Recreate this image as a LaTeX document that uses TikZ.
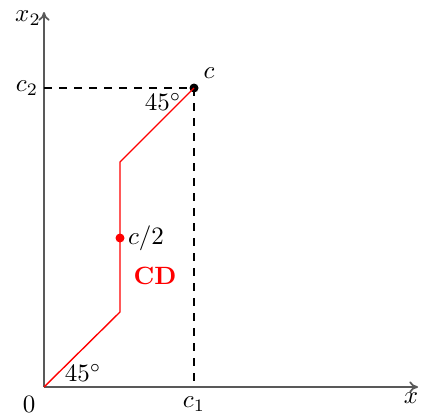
\documentclass[tikz,border=0pt]{standalone}
\usetikzlibrary{arrows.meta}
\begin{document}
\begin{tikzpicture}[x=0.4pt,y=-0.4pt,
  axis/.style={line width=0.7pt, draw=black!65, -{To[length=3.5pt,width=4.5pt]}},
  guide/.style={dashed, line width=0.5pt},
  route/.style={red, line width=0.55pt},
  dot/.style={circle, inner sep=0pt, minimum size=3.6pt}]
\useasboundingbox (0,0) rectangle (424,414);
\coordinate (O) at (44,387);
\coordinate (xend) at (418,387);
\coordinate (yend) at (44,12);
\coordinate (p1) at (120,312);
\coordinate (p2) at (120,162);
\coordinate (c1) at (194,387);
\coordinate (c2) at (44,88);
\node[dot, fill=black] (c) at (194,88) {};
\node[dot, fill=red] (half) at (120,238) {};
\draw[axis] (O) -- (xend);
\draw[axis] (O) -- (yend);
\draw[guide] (c2) -- (c.center) -- (c1);
\draw[route] (O) -- (p1) -- (p2) -- (c.center);
\node (lc) at (209,73) {$c$};
\node[anchor=west, inner sep=1pt] (lhalf) at (half.east) {$c/2$};
\node[red] (lcd) at (155,276) {\textbf{CD}};
\node (lx) at (411,398) {$x$};
\node (lx2) at (28,18) {$x_2$};
\node (lc2) at (27,88) {$c_2$};
\node (lc1) at (194,404) {$c_1$};
\node (l0) at (29,404) {$0$};
\node (a1) at (83,373) {$45^{\circ}$};
\node (a2) at (163,102) {$45^{\circ}$};
\end{tikzpicture}
\end{document}
